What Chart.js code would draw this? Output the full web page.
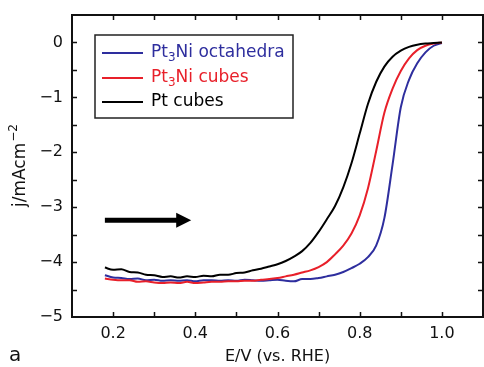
<!DOCTYPE html>
<html><head><meta charset="utf-8">
<script src="https://cdn.jsdelivr.net/npm/chart.js@4/dist/chart.umd.min.js"></script>
<style>html,body{margin:0;padding:0;background:#fff}</style>
</head><body>
<canvas id="c" width="484" height="367" style="width:484px;height:367px;display:block"></canvas>
<script>
// ---- data ----
const potential = [0.18,0.20,0.22,0.24,0.26,0.28,0.30,0.32,0.34,0.36,0.38,0.40,0.42,0.44,0.46,0.48,0.50,0.52,0.54,0.56,0.58,0.60,0.62,0.64,0.66,0.68,0.70,0.72,0.74,0.76,0.78,0.80,0.82,0.84,0.86,0.88,0.90,0.92,0.94,0.96,0.98,1.00];
const ptCubes     = [-4.10,-4.14,-4.13,-4.18,-4.19,-4.23,-4.24,-4.27,-4.26,-4.28,-4.26,-4.27,-4.25,-4.26,-4.23,-4.23,-4.20,-4.19,-4.15,-4.12,-4.08,-4.04,-3.98,-3.90,-3.80,-3.65,-3.45,-3.22,-2.98,-2.64,-2.20,-1.66,-1.12,-0.72,-0.44,-0.26,-0.15,-0.08,-0.04,-0.02,-0.01,0.00];
const pt3NiCubes  = [-4.30,-4.32,-4.33,-4.33,-4.36,-4.35,-4.37,-4.38,-4.37,-4.38,-4.36,-4.38,-4.37,-4.36,-4.36,-4.35,-4.35,-4.34,-4.34,-4.32,-4.31,-4.29,-4.26,-4.23,-4.19,-4.15,-4.09,-4.00,-3.86,-3.70,-3.48,-3.15,-2.66,-1.98,-1.28,-0.84,-0.52,-0.29,-0.14,-0.06,-0.02,0.00];
const pt3NiOcta   = [-4.24,-4.28,-4.29,-4.31,-4.30,-4.33,-4.32,-4.34,-4.33,-4.34,-4.33,-4.35,-4.33,-4.33,-4.34,-4.33,-4.34,-4.32,-4.33,-4.34,-4.33,-4.32,-4.34,-4.35,-4.31,-4.31,-4.29,-4.26,-4.23,-4.18,-4.11,-4.03,-3.91,-3.70,-3.20,-2.22,-1.18,-0.68,-0.38,-0.18,-0.06,-0.01];
const seriesLabels = ['Pt₃Ni octahedra', 'Pt₃Ni cubes', 'Pt cubes'];
const seriesColors = ['#2e2e9e', '#e8202a', '#000000'];
const xTickLabels = [0.2, 0.4, 0.6, 0.8, 1.0];
const xMinorTicks = [0.2, 0.3, 0.4, 0.5, 0.6, 0.7, 0.8, 0.9, 1.0];
const yTickLabels = [-5, -4, -3, -2, -1, 0];
const yMinorTicks = [-4.5, -4, -3.5, -3, -2.5, -2, -1.5, -1, -0.5, 0];
const arrowStart = [0.18, -3.24];
const arrowEnd = [0.39, -3.24];
const xTitle = 'E/V (vs. RHE)';
const yTitleMain = 'j/mAcm';
const yTitleSup = '−2';
const panelLabel = 'a';

const FONT = "'DejaVu Sans', sans-serif";
const toPts = arr => potential.map((e, i) => ({x: e, y: arr[i]}));

const framePlugin = {
  id: 'frame',
  afterDatasetsDraw(chart) {
    const {ctx, chartArea: a, scales: {x, y}} = chart;
    ctx.save();
    // frame
    ctx.strokeStyle = '#111';
    ctx.lineWidth = 2;
    ctx.strokeRect(a.left, a.top, a.right - a.left, a.bottom - a.top);
    // inward ticks on all sides
    ctx.lineWidth = 1.5;
    const L = 5;
    ctx.beginPath();
    xMinorTicks.forEach(v => {
      const px = Math.round(x.getPixelForValue(v)) + 0.5;
      ctx.moveTo(px, a.bottom); ctx.lineTo(px, a.bottom - L);
      ctx.moveTo(px, a.top); ctx.lineTo(px, a.top + L);
    });
    yMinorTicks.forEach(v => {
      const py = Math.round(y.getPixelForValue(v)) + 0.5;
      ctx.moveTo(a.left, py); ctx.lineTo(a.left + L, py);
      ctx.moveTo(a.right, py); ctx.lineTo(a.right - L, py);
    });
    ctx.stroke();

    // arrow
    const x0 = x.getPixelForValue(arrowStart[0]), y0 = y.getPixelForValue(arrowStart[1]);
    const x1 = x.getPixelForValue(arrowEnd[0]), y1 = y.getPixelForValue(arrowEnd[1]);
    const head = 15;
    ctx.fillStyle = '#000';
    ctx.strokeStyle = '#000';
    ctx.lineWidth = 5;
    ctx.beginPath(); ctx.moveTo(x0, y0); ctx.lineTo(x1 - head + 1, y1); ctx.stroke();
    ctx.beginPath();
    ctx.moveTo(x1, y1); ctx.lineTo(x1 - head, y1 - 7.5); ctx.lineTo(x1 - head, y1 + 7.5); ctx.closePath(); ctx.fill();

    // legend
    const lx = a.left + 23, ly = a.top + 20, lw = 198, lh = 83;
    ctx.fillStyle = '#fff';
    ctx.fillRect(lx, ly, lw, lh);
    ctx.strokeStyle = '#222';
    ctx.lineWidth = 1.5;
    ctx.strokeRect(lx, ly, lw, lh);
    const rows = [18, 43, 67];
    chart.data.datasets.forEach((ds, i) => {
      const ry = ly + rows[i];
      ctx.strokeStyle = ds.borderColor;
      ctx.lineWidth = 2;
      ctx.beginPath(); ctx.moveTo(lx + 7, ry); ctx.lineTo(lx + 48, ry); ctx.stroke();
      ctx.fillStyle = ds.borderColor;
      ctx.textBaseline = 'middle';
      ctx.textAlign = 'left';
      let tx = lx + 56;
      const parts = ds.label.split('₃');
      parts.forEach((p, k) => {
        ctx.font = '17px ' + FONT;
        ctx.fillText(p, tx, ry);
        tx += ctx.measureText(p).width;
        if (k < parts.length - 1) {
          ctx.font = '12px ' + FONT;
          ctx.fillText('3', tx, ry + 5);
          tx += ctx.measureText('3').width;
        }
      });
    });

    // axis titles
    ctx.fillStyle = '#111';
    ctx.textAlign = 'center';
    ctx.textBaseline = 'middle';
    ctx.font = '16px ' + FONT;
    ctx.fillText(xTitle, (a.left + a.right) / 2, 357);
    ctx.textAlign = 'left';
    ctx.font = '20px ' + FONT;
    ctx.fillText(panelLabel, 9, 356);

    ctx.save();
    ctx.translate(21, (a.top + a.bottom) / 2);
    ctx.rotate(-Math.PI / 2);
    ctx.font = '17px ' + FONT;
    const w1 = ctx.measureText(yTitleMain).width;
    ctx.font = '12px ' + FONT;
    const w2 = ctx.measureText(yTitleSup).width;
    let sx = -(w1 + w2) / 2;
    ctx.textAlign = 'left';
    ctx.font = '17px ' + FONT;
    ctx.fillText(yTitleMain, sx, 0);
    ctx.font = '12px ' + FONT;
    ctx.fillText(yTitleSup, sx + w1 + 1, -7);
    ctx.restore();

    ctx.restore();
  }
};

const series = [pt3NiOcta, pt3NiCubes, ptCubes];
new Chart(document.getElementById('c'), {
  type: 'line',
  data: {
    datasets: series.map((s, i) => ({
      label: seriesLabels[i],
      data: toPts(s),
      borderColor: seriesColors[i],
      backgroundColor: seriesColors[i],
      borderWidth: 2,
      pointRadius: 0,
      cubicInterpolationMode: 'monotone',
      fill: false,
      order: 3 - i
    }))
  },
  options: {
    responsive: false,
    animation: false,
    devicePixelRatio: 1,
    layout: {padding: {top: 15, right: 1, left: 0, bottom: 0}},
    plugins: {legend: {display: false}, tooltip: {enabled: false}, title: {display: false}},
    scales: {
      x: {
        type: 'linear', min: 0.1, max: 1.1,
        grid: {display: false, drawTicks: false},
        border: {display: false},
        afterBuildTicks: sc => { sc.ticks = xTickLabels.map(v => ({value: v})); },
        afterFit: sc => { sc.height = 50; sc.paddingLeft = 0; sc.paddingRight = 0; },
        ticks: {
          padding: 7, color: '#111', font: {family: FONT, size: 16},
          maxRotation: 0, autoSkip: false,
          callback: v => Number(v).toFixed(1)
        }
      },
      y: {
        type: 'linear', min: -5, max: 0.5,
        grid: {display: false, drawTicks: false},
        border: {display: false},
        afterBuildTicks: sc => { sc.ticks = yTickLabels.map(v => ({value: v})); },
        afterFit: sc => { sc.width = 72; sc.paddingTop = 0; sc.paddingBottom = 0; },
        ticks: {
          padding: 9, color: '#111', font: {family: FONT, size: 16},
          autoSkip: false,
          callback: v => String(v).replace('-', '−')
        }
      }
    }
  },
  plugins: [framePlugin]
});
</script>
</body></html>
